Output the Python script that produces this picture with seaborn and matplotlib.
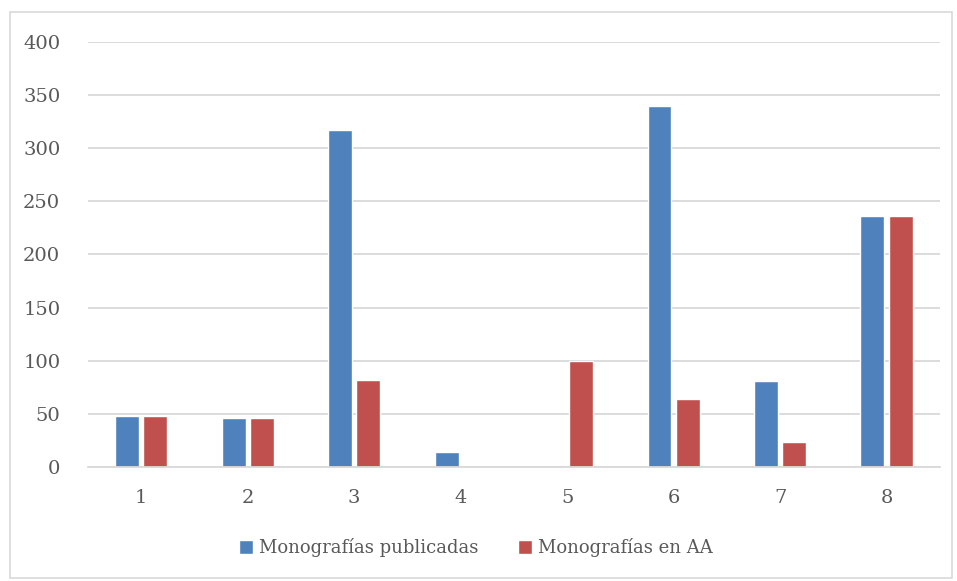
import pandas as pd
import matplotlib.pyplot as plt
import seaborn as sns
from matplotlib.patches import Rectangle

# Datos
categorias = ["1", "2", "3", "4", "5", "6", "7", "8"]
publicadas = [48, 46, 317, 14, 0, 340, 81, 236]
en_aa = [48, 46, 82, 0, 100, 64, 24, 236]
series = ["Monografías publicadas", "Monografías en AA"]
colores = ["#4F81BD", "#C0504D"]

df = pd.DataFrame({
    "cat": categorias * 2,
    "valor": publicadas + en_aa,
    "serie": [series[0]] * len(categorias) + [series[1]] * len(categorias),
})

sns.set_theme(style="white")
plt.rcParams["font.family"] = ["DejaVu Serif"]

fig = plt.figure(figsize=(9.57, 5.81), dpi=100)
ax = fig.add_axes([0.092, 0.196, 0.890, 0.732])

sns.barplot(data=df, x="cat", y="valor", hue="serie", palette=colores,
            width=0.53, gap=0.15, saturation=1, ax=ax, legend=True)

ax.set_ylim(0, 400)
ax.set_yticks(range(0, 401, 50))
ax.yaxis.grid(True, color="#d9d9d9", linewidth=1.3)
ax.set_axisbelow(True)
for s in ["top", "right", "left"]:
    ax.spines[s].set_visible(False)
ax.spines["bottom"].set_color("#d9d9d9")
ax.spines["bottom"].set_linewidth(1.3)
ax.tick_params(axis="both", length=0, labelsize=14, colors="#595959")
ax.tick_params(axis="y", pad=20)
ax.tick_params(axis="x", pad=16)
ax.set_xlabel("")
ax.set_ylabel("")

# Leyenda abajo, centrada en la figura
handles, labels = ax.get_legend_handles_labels()
ax.get_legend().remove()
fig.legend(handles, labels, loc="center", bbox_to_anchor=(0.497, 0.057),
           ncol=2, frameon=False, fontsize=13, labelcolor="#595959",
           handlelength=0.8, handleheight=0.8, handletextpad=0.3,
           columnspacing=2.2)

# Borde exterior del gráfico
fig.patches.append(Rectangle((0.01, 0.005), 0.985, 0.975, transform=fig.transFigure,
                             fill=False, edgecolor="#d9d9d9", linewidth=1.2))

fig.savefig("out.png", dpi=100)
